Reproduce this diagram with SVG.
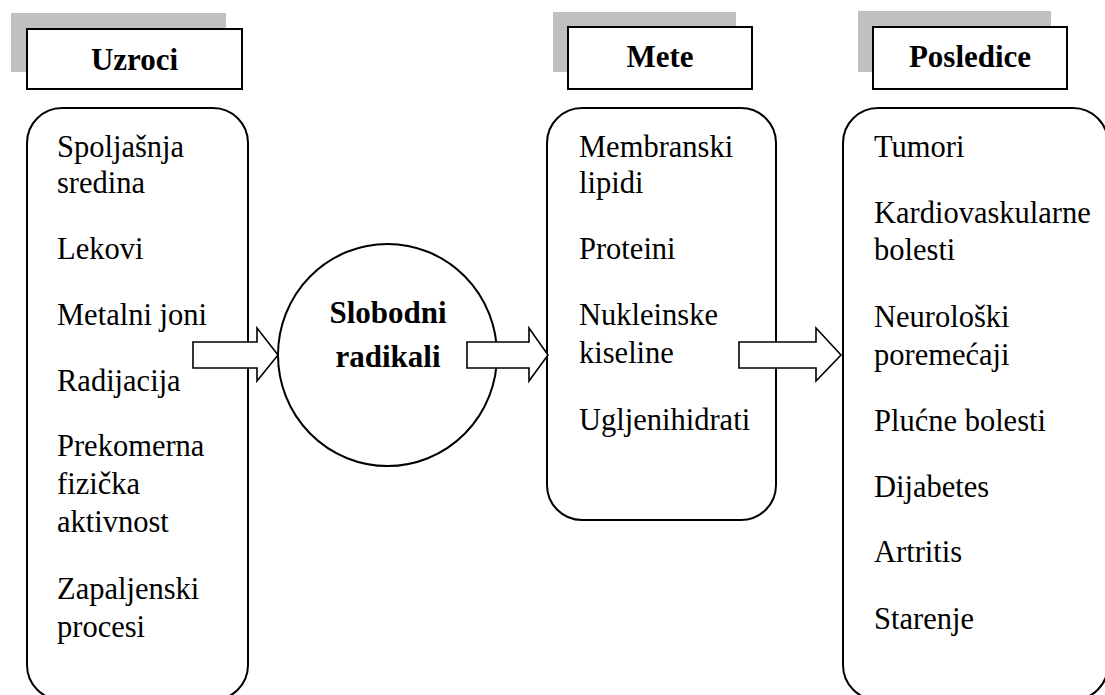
<svg xmlns="http://www.w3.org/2000/svg" width="1105" height="695" viewBox="0 0 1105 695">
<style>
.shadow{fill:#c0c0c0;stroke:none}
.hbox{fill:#fff;stroke:#000;stroke-width:2}
.box{fill:#fff;stroke:#000;stroke-width:2}
.arrow{fill:#fff;stroke:#000;stroke-width:1.6;stroke-linejoin:miter}
.h{font-family:"Liberation Serif","Times New Roman",serif;font-weight:bold;font-size:31px;fill:#000;text-anchor:middle}
.t{font-family:"Liberation Serif","Times New Roman",serif;font-size:30.5px;fill:#000}
</style>
<rect width="1105" height="695" fill="#fff"/>
<g id="header-uzroci">
<rect class="shadow" x="11" y="13" width="215" height="59"/>
<rect class="hbox" x="27" y="29" width="215" height="60"/>
<text class="h" x="134.5" y="70">Uzroci</text>
</g>
<g id="header-mete">
<rect class="shadow" x="553" y="12" width="183" height="60"/>
<rect class="hbox" x="568" y="27" width="184" height="62"/>
<text class="h" x="660" y="67">Mete</text>
</g>
<g id="header-posledice">
<rect class="shadow" x="858" y="11" width="193" height="61"/>
<rect class="hbox" x="873" y="27" width="194" height="62"/>
<text class="h" x="970" y="67">Posledice</text>
</g>
<g id="uzroci">
<rect class="box" x="27" y="108" width="221" height="592" rx="35" ry="35"/>
<text class="t" x="57" y="157">Spoljašnja</text>
<text class="t" x="57" y="193">sredina</text>
<text class="t" x="57" y="259">Lekovi</text>
<text class="t" x="57" y="325">Metalni joni</text>
<text class="t" x="57" y="391">Radijacija</text>
<text class="t" x="57" y="456">Prekomerna</text>
<text class="t" x="57" y="494">fizička</text>
<text class="t" x="57" y="532">aktivnost</text>
<text class="t" x="57" y="599">Zapaljenski</text>
<text class="t" x="57" y="637">procesi</text>
</g>
<g id="slobodni-radikali">
<ellipse class="box" cx="387.5" cy="355" rx="109.5" ry="111"/>
<text class="h" x="388" y="323">Slobodni</text>
<text class="h" x="388" y="367">radikali</text>
</g>
<g id="mete">
<rect class="box" x="547" y="108" width="229" height="412" rx="35" ry="35"/>
<text class="t" x="579" y="157">Membranski</text>
<text class="t" x="579" y="193">lipidi</text>
<text class="t" x="579" y="259">Proteini</text>
<text class="t" x="579" y="325">Nukleinske</text>
<text class="t" x="579" y="363">kiseline</text>
<text class="t" x="579" y="430">Ugljenihidrati</text>
</g>
<g id="posledice">
<rect class="box" x="843" y="108" width="265" height="592" rx="35" ry="35"/>
<text class="t" x="874" y="157">Tumori</text>
<text class="t" x="874" y="223">Kardiovaskularne</text>
<text class="t" x="874" y="260">bolesti</text>
<text class="t" x="874" y="327">Neurološki</text>
<text class="t" x="874" y="365">poremećaji</text>
<text class="t" x="874" y="431">Plućne bolesti</text>
<text class="t" x="874" y="497">Dijabetes</text>
<text class="t" x="874" y="562">Artritis</text>
<text class="t" x="874" y="629">Starenje</text>
</g>
<g id="connectors">
<path class="arrow" d="M193,342 H257 V328 L278,355 L257,381 V368 H193 Z"/>
<path class="arrow" d="M467,342 H529 V328 L548,355 L529,381 V368 H467 Z"/>
<path class="arrow" d="M739,342 H816 V328 L841,355 L816,381 V368 H739 Z"/>
</g>
</svg>
